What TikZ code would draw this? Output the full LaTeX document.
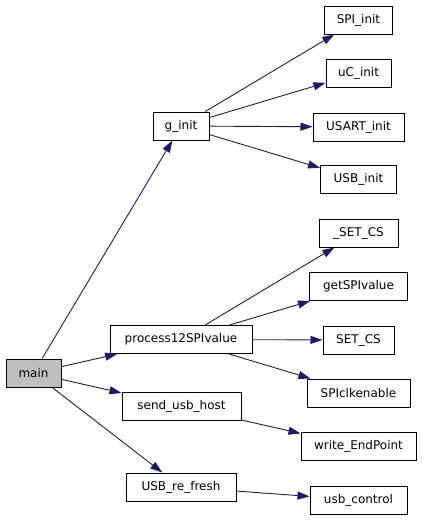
\documentclass[tikz,border=0pt]{standalone}
\usepackage{fontspec}
\setmainfont{DejaVu Sans}
\usetikzlibrary{arrows.meta}
\definecolor{edgeblue}{HTML}{191970}
\definecolor{maingray}{HTML}{BFBFBF}

\begin{document}
\begin{tikzpicture}[x=1pt, y=-1pt,
    fn/.style={draw=black, line width=1pt, fill=white, inner sep=0pt,
      minimum height=28pt, font=\fontsize{12}{14}\selectfont},
    call/.style={edgeblue, line width=0.9pt,
      -{Triangle[length=12pt, width=8pt]}}]
    \useasboundingbox (0, 0) rectangle (421, 520);

    % callers
    \node[fn, fill=maingray, minimum width=55pt] (main) at (33.5, 373) {main};
    \node[fn, minimum width=56pt] (ginit) at (181, 126) {g\_init};
    \node[fn, minimum width=142pt] (process) at (181, 339.5) {process12SPIvalue};
    \node[fn, minimum width=119pt] (sendhost) at (181.5, 406.5) {send\_usb\_host};
    \node[fn, minimum width=110pt] (refresh) at (181, 487) {USB\_re\_fresh};

    % callees
    \foreach \name/\txt/\y/\w in {spiinit/SPI\_init/20/68, ucinit/uC\_init/73/65,
        usartinit/USART\_init/127/91, usbinit/USB\_init/179.5/76,
        usetcs/\_SET\_CS/233/79, getspi/getSPIvalue/286.5/98,
        setcs/SET\_CS/340/71, clken/SPIclkenable/393/103,
        writeep/write\_EndPoint/446.5/115, usbctrl/usb\_control/500/97} {
      \node[fn, minimum width=\w pt] (\name) at (358.5, \y) {\txt};
    }

    \foreach \a/\b in {main/ginit, main/process, main/sendhost, main/refresh,
        ginit/spiinit, ginit/ucinit, ginit/usartinit, ginit/usbinit,
        process/usetcs, process/getspi, process/setcs, process/clken,
        sendhost/writeep, refresh/usbctrl} {
      \draw[call] (\a) -- (\b);
    }
  \end{tikzpicture}
\end{document}
